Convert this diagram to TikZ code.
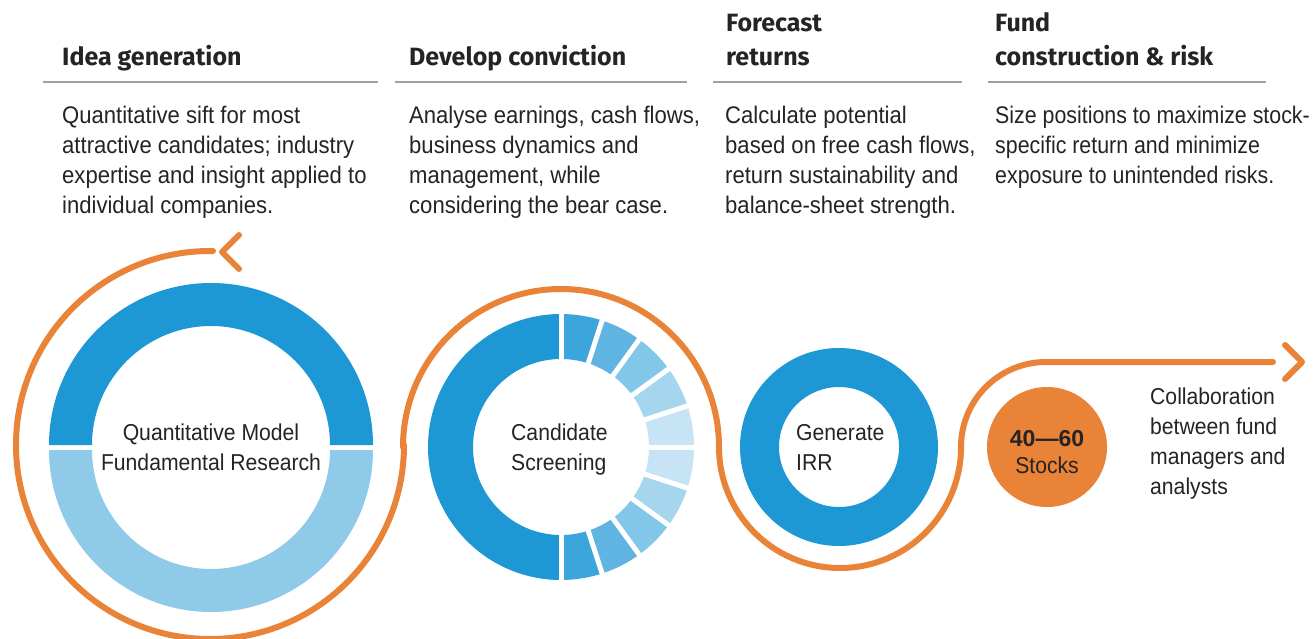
\documentclass[tikz,border=0pt]{standalone}
\usepackage{fontspec}
\setmainfont{Liberation Sans}[FakeStretch=0.92]
\newfontfamily\headfont{Fira Sans}
\newfontfamily\numfont{Liberation Sans}
\newfontfamily\narrowfont{Liberation Sans}[FakeStretch=0.89]
\usetikzlibrary{calc}
\definecolor{dblue}{HTML}{1E98D5}
\definecolor{lblue}{HTML}{8FCBE9}
\definecolor{sega}{HTML}{3CA5DC}
\definecolor{segb}{HTML}{5FB4E2}
\definecolor{segc}{HTML}{82C6E9}
\definecolor{segd}{HTML}{A5D6EE}
\definecolor{sege}{HTML}{C6E4F5}
\definecolor{orng}{HTML}{E98337}
\definecolor{txt}{HTML}{262324}
\definecolor{rulec}{HTML}{A0A0A0}
\tikzset{
  headtxt/.style={anchor=base west, inner sep=0, align=left, text=txt,
    font=\headfont\bfseries\fontsize{25}{34}\selectfont},
  bodytxt/.style={anchor=base west, inner sep=0, align=left, text=txt,
    font=\fontsize{24}{29.7}\selectfont},
  ringtxt/.style={inner sep=0, text=txt, font=\fontsize{23}{30}\selectfont},
  hrule/.style={draw=rulec, line width=1.5},
  swoosh/.style={draw=orng, line width=6, line cap=round, line join=round}
}
\begin{document}
\begin{tikzpicture}[x=1pt,y=1pt]
\useasboundingbox (0,0) rectangle (1313,-639);
\fill[white] (0,0) rectangle (1313,-639);

% headings (anchor = baseline of the last line)
\node[headtxt] (h1) at (62,-66) {Idea generation};
\node[headtxt] (h2) at (409,-66) {Develop conviction};
\node[headtxt] (h3) at (726,-66) {Forecast\\returns};
\node[headtxt] (h4) at (995,-66) {Fund\\construction \& risk};
\draw[hrule] (43,-82) -- (378,-82);
\draw[hrule] (395,-82) -- (687,-82);
\draw[hrule] (713,-82) -- (962,-82);
\draw[hrule] (988,-82) -- (1266,-82);

% body texts (anchor = baseline of the last line)
\node[bodytxt] (b1) at (62,-213) {Quantitative sift for most\\attractive candidates; industry\\expertise and insight applied to\\individual companies.};
\node[bodytxt] (b2) at (409,-213) {Analyse earnings, cash flows,\\business dynamics and\\management, while\\considering the bear case.};
\node[bodytxt] (b3) at (725,-213) {Calculate potential\\based on free cash flows,\\return sustainability and\\balance-sheet strength.};
\node[bodytxt, font=\narrowfont\fontsize{24}{29.7}\selectfont] (b4) at (995,-183.4) {Size positions to maximize stock-\\specific return and minimize\\exposure to unintended risks.};

% ring 1
\fill[dblue] (373,-445) arc[start angle=0,end angle=180,radius=162] -- (92,-445) arc[start angle=180,end angle=0,radius=119] -- cycle;
\fill[lblue] (373,-450) arc[start angle=0,end angle=-180,radius=162] -- (92,-450) arc[start angle=180,end angle=360,radius=119] -- cycle;
\node[ringtxt, anchor=base] (r1a) at (211,-440) {Quantitative Model};
\node[ringtxt, anchor=base] (r1b) at (211,-470) {Fundamental Research};

% ring 2
\coordinate (c2) at (561,-447);
\fill[dblue] (561,-314) arc[start angle=90,end angle=270,radius=133] -- (561,-535) arc[start angle=270,end angle=90,radius=88] -- cycle;
\foreach \i/\c in {0/sega,1/segb,2/segc,3/segd,4/sege,5/sege,6/segd,7/segc,8/segb,9/sega}{
  \pgfmathsetmacro{\aa}{90-18*\i}
  \pgfmathsetmacro{\ab}{72-18*\i}
  \fill[\c] ($(c2)+(\aa:133)$) arc[start angle=\aa,end angle=\ab,radius=133] -- ($(c2)+(\ab:88)$) arc[start angle=\ab,end angle=\aa,radius=88] -- cycle;
}
\foreach \i in {0,...,10}{
  \pgfmathsetmacro{\aa}{90-18*\i}
  \draw[white,line width=5] ($(c2)+(\aa:84)$) -- ($(c2)+(\aa:137)$);
}
\node[ringtxt, anchor=base west] (r2a) at (511,-440) {Candidate};
\node[ringtxt, anchor=base west] (r2b) at (511,-470) {Screening};

% ring 3
\fill[dblue, even odd rule] (839,-447) circle[radius=99] (839,-447) circle[radius=60];
\node[ringtxt, anchor=base west] (r3a) at (796,-440) {Generate};
\node[ringtxt, anchor=base west] (r3b) at (796,-470) {IRR};

% stocks circle
\node[circle, fill=orng, minimum size=120, inner sep=0] (stocks) at (1047,-447) {};
\node[inner sep=0, anchor=base, text=txt, font=\numfont\bfseries\fontsize{23}{27}\selectfont] (n4060) at (1047,-446) {40—60};
\node[ringtxt, anchor=base] (nstk) at (1047,-473) {Stocks};

% collaboration
\node[bodytxt, font=\fontsize{23}{29.7}\selectfont] (collab) at (1150,-494) {Collaboration\\between fund\\managers and\\analysts};

% orange swoosh
\draw[swoosh] (213,-251) -- (210,-251) arc[start angle=90,end angle=360,radius=194]
  -- (403,-447) arc[start angle=180,end angle=0,radius=158]
  arc[start angle=180,end angle=360,radius=121]
  arc[start angle=180,end angle=90,radius=85] -- (1273,-362);
\draw[swoosh] (239,-235) -- (222,-252) -- (239,-269);
\draw[swoosh] (1285,-345) -- (1302,-362) -- (1285,-379);
\end{tikzpicture}
\end{document}
